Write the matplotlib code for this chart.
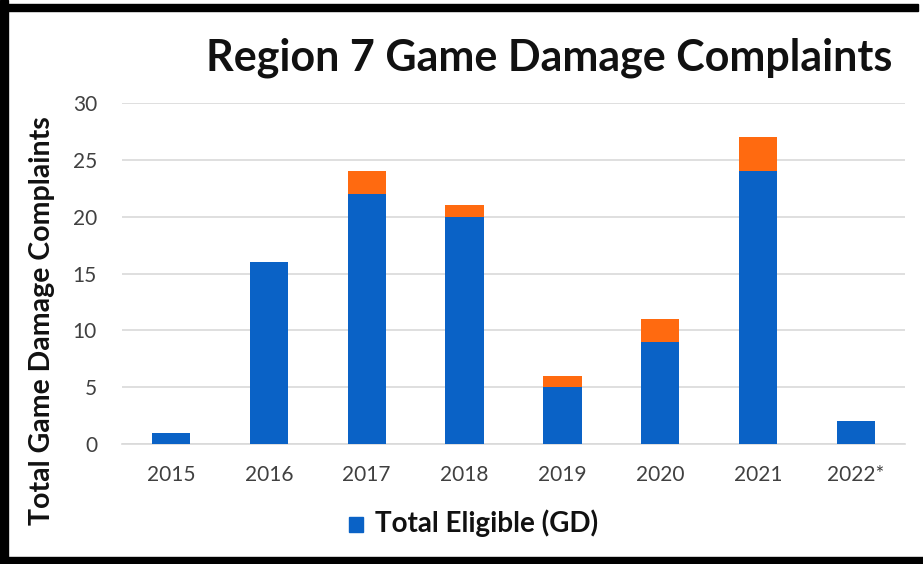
import numpy as np
import matplotlib
matplotlib.use('Agg')
import matplotlib.pyplot as plt
from matplotlib.patches import Rectangle

plt.rcParams['font.family'] = ['Lato', 'DejaVu Sans']

# complaints per year
years = ['2015', '2016', '2017', '2018', '2019', '2020', '2021', '2022*']
eligible = [1, 16, 22, 20, 5, 9, 24, 2]
other = [0, 0, 2, 1, 1, 2, 3, 0]

blue = '#0A62C6'
orange = '#FF6A10'

W, H = 923, 564
fig = plt.figure(figsize=(W / 100, H / 100), dpi=100)
ax = fig.add_axes([122 / W, 1 - 444 / H, (905 - 122) / W, (444 - 103) / H])

x = np.arange(len(years))
ax.bar(x, eligible, width=0.39, color=blue, label='Total Eligible (GD)', zorder=3)
ax.bar(x, other, width=0.39, bottom=eligible, color=orange, zorder=3)

ax.set_xlim(-0.5, len(years) - 0.5)
ax.set_ylim(0, 30)
ax.set_yticks(range(0, 31, 5))
ax.set_xticks(x)
ax.set_xticklabels(years)
ax.grid(axis='y', color='#D9D9D9', linewidth=1.2, zorder=0)
for s in ['top', 'right', 'left']:
    ax.spines[s].set_visible(False)
ax.spines['bottom'].set_color('#D9D9D9')
ax.spines['bottom'].set_linewidth(1.2)
ax.tick_params(length=0, labelsize=15, labelcolor='#404040')
ax.tick_params(axis='x', pad=15)
ax.tick_params(axis='y', pad=18)

fig.text(549 / W, 1 - 58 / H, 'Region 7 Game Damage Complaints', ha='center', va='center',
         fontsize=31, fontweight='bold', color='#111111')
fig.text(42 / W, 1 - 321 / H, 'Total Game Damage Complaints', rotation=90,
         ha='center', va='center', fontsize=20.5, fontweight='bold', color='#111111')

# legend (blue series only)
fig.add_artist(Rectangle((349 / W, 1 - 532 / H), 14 / W, 15 / H,
                         transform=fig.transFigure, color=blue))
fig.text(375 / W, 1 - 523 / H, 'Total Eligible (GD)', ha='left', va='center',
         fontsize=20, fontweight='bold', color='#111111')

# black frame on three sides
for rx, ry, rw, rh in [(0, 0, 8, H), (0, H - 11, 918, 7), (0, 0, W, 7)]:
    fig.add_artist(Rectangle((rx / W, ry / H), rw / W, rh / H,
                             transform=fig.transFigure, color='black'))

fig.savefig('out.png', dpi=100)
